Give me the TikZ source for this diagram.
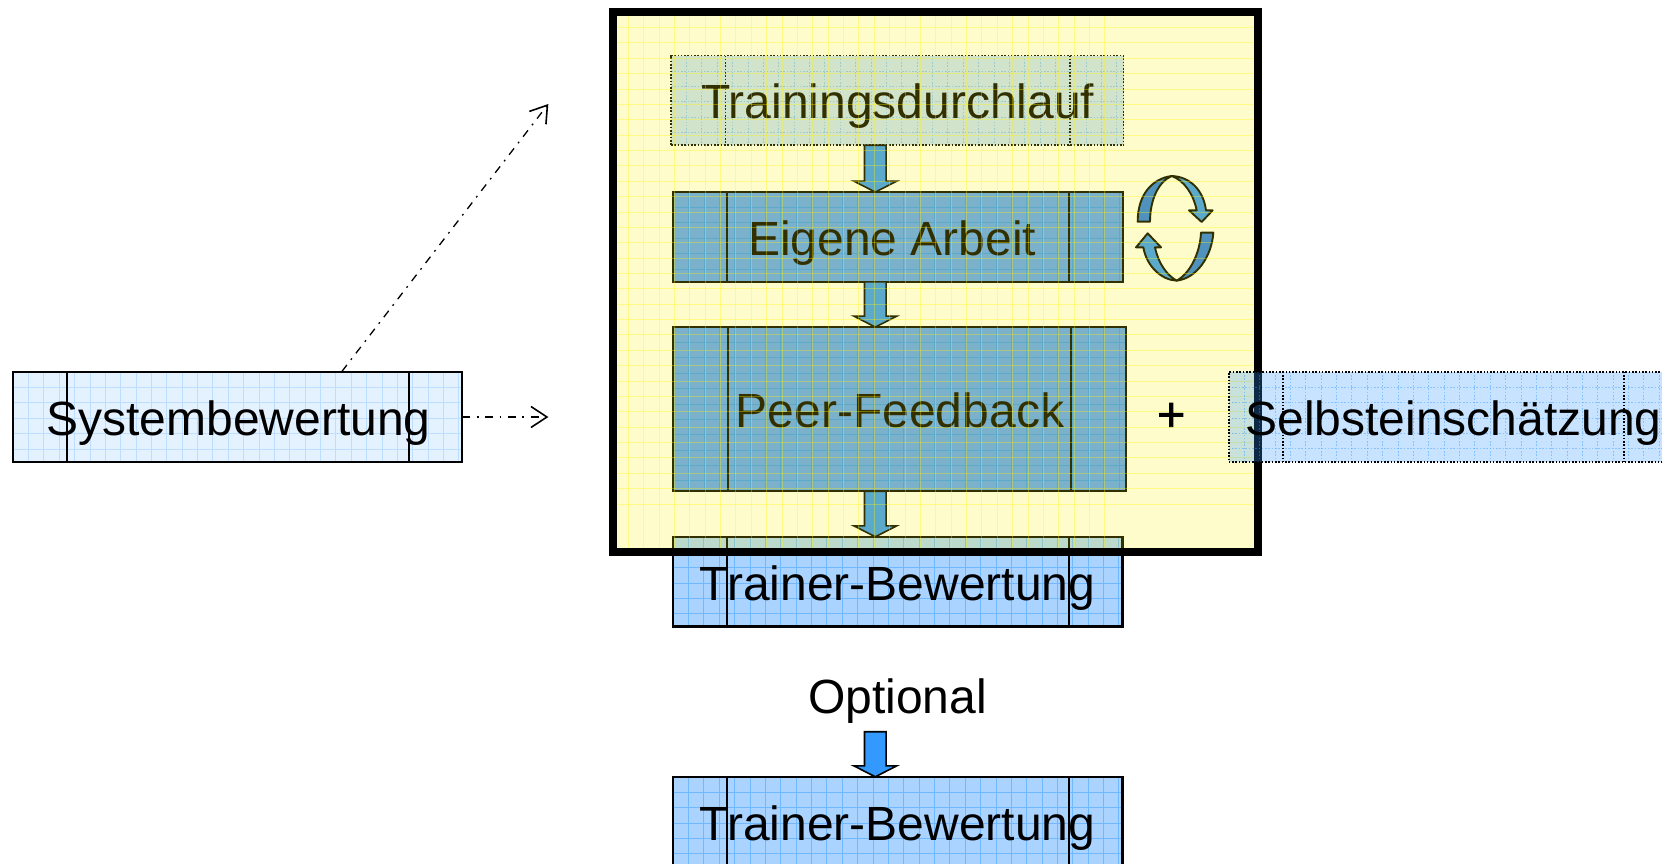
\documentclass[tikz,border=0pt]{standalone}
\usepackage{fontspec}
\setmainfont{Liberation Sans}
\usetikzlibrary{calc,arrows.meta}
\definecolor{blu}{RGB}{51,153,255}
\definecolor{trainerfill}{RGB}{170,212,255}
\definecolor{sysfill}{RGB}{228,241,255}
\definecolor{sysgrid}{RGB}{190,222,255}
\definecolor{deepfill}{RGB}{92,161,255}
\definecolor{trainfill}{RGB}{199,224,255}
\definecolor{traingrid}{RGB}{136,192,255}
\definecolor{darkarm}{RGB}{36,123,237}
\newcommand{\gridlines}[2]{%
  \foreach \k in {1,...,32} {
    \draw[#1] ($(path picture bounding box.north west)+(#2*\k,0)$) -- ($(path picture bounding box.south west)+(#2*\k,0)$);
    \draw[#1] ($(path picture bounding box.north west)+(0,#2*\k)$) -- ($(path picture bounding box.north east)+(0,#2*\k)$);
  }%
}
\tikzset{
  x=1pt,y=-1pt,
  procbox/.style={rectangle,inner sep=0pt,outer sep=0pt},
  solidedge/.style={draw=black,line width=2.1pt},
  dotedge/.style={draw=black,line width=1.6pt,dash pattern=on 1.6pt off 1.7pt},
  trainerbox/.style={procbox,solidedge,fill=trainerfill,path picture={\gridlines{draw=blu!70!white,line width=.7pt}{15.37}}},
  sysbox/.style={procbox,solidedge,fill=sysfill,path picture={\gridlines{draw=sysgrid,line width=.7pt}{15.37}}},
  deepbox/.style={procbox,solidedge,fill=deepfill,path picture={\gridlines{draw=blu,line width=.7pt}{15.37}}},
  trainbox/.style={procbox,dotedge,fill=trainfill,path picture={\gridlines{draw=traingrid,line width=.7pt}{15.37}}},
  selfbox/.style={procbox,dotedge,fill=blu,fill opacity=.27,path picture={\gridlines{draw=blu,draw opacity=.45,line width=.7pt}{15.37}}},
  framebox/.style={rectangle,inner sep=0pt,outer sep=0pt,draw=black,line width=8pt,fill=yellow,fill opacity=.2,path picture={\gridlines{draw=yellow,draw opacity=.35,line width=.6pt}{15.37}}},
  lbl/.style={anchor=base,inner sep=0pt,font=\fontsize{48}{58}\selectfont},
  plusmark/.style={anchor=center,inner sep=0pt,font=\fontsize{48.4}{58}\selectfont\addfontfeature{FakeBold=1.5}},
  blockarrow/.style={draw=black,line width=1.6pt,fill=blu,line join=miter},
  turnarm/.style={draw=black,line width=1.9pt,line join=round},
  linkarrow/.style={draw=black,line width=1.3pt,dash pattern=on 8pt off 6.5pt on 1.8pt off 6.5pt,-{Straight Barb[length=16pt,width=21pt,line width=1.6pt]}},
}
\newcommand{\procnode}[9]{%
  \pgfmathsetmacro{\bw}{#4-#2-1.6}\pgfmathsetmacro{\bh}{#5-#3-1.6}%
  \pgfmathsetmacro{\bx}{(#4+#2)/2}\pgfmathsetmacro{\by}{(#5+#3)/2}%
  \node[#8,minimum width=\bw pt,minimum height=\bh pt] (#1) at (\bx,\by) {};
  \draw[#9] (#6,#3+.8) -- (#6,#5-.8);
  \draw[#9] (#7,#3+.8) -- (#7,#5-.8);
}
\newcommand{\blockto}[3]{%
  \draw[blockarrow] ($(#1 -| #3)+(-10.8,0)$) -- ($(#2 -| #3)+(-10.8,-11)$) -- ($(#2 -| #3)+(-21.5,-11)$) -- (#2 -| #3)
    -- ($(#2 -| #3)+(21.5,-11)$) -- ($(#2 -| #3)+(10.8,-11)$) -- ($(#1 -| #3)+(10.8,0)$) -- cycle;
}
\begin{document}
\begin{tikzpicture}
\useasboundingbox (0,0) rectangle (1662,863);
\coordinate (col) at (875.3,0);
% boxes beneath the translucent frame
\procnode{train}{670.3}{54.7}{1124.4}{146}{725.4}{1069.7}{trainbox}{dotedge}
\procnode{eigene}{672.4}{191.3}{1123.6}{282.7}{727}{1069}{deepbox}{solidedge}
\procnode{peer}{672.4}{326.3}{1126.5}{492}{727.6}{1071.4}{deepbox}{solidedge}
\procnode{trainerA}{672.3}{536}{1123.3}{627.3}{727.3}{1068.7}{trainerbox}{solidedge}
\procnode{trainerB}{672.3}{776}{1123.3}{867.3}{727.3}{1068.7}{trainerbox}{solidedge}
\procnode{sys}{12.2}{371.3}{463}{462.7}{67.4}{408.7}{sysbox}{solidedge}
\blockto{train.south}{eigene.north}{col}
\blockto{eigene.south}{peer.north}{col}
\blockto{peer.south}{trainerA.north}{col}
\coordinate (optstart) at (875.3,731.7);
\blockto{optstart}{trainerB.north}{col}
% circular arrows
\begin{scope}[shift={(1100,150)},x=.3333pt,y=-.3333pt]
  \draw[turnarm,fill=darkarm] (113,215) .. controls (113,130) and (160,85) .. (215,78) .. controls (175,95) and (150,150) .. (150,215) -- cycle;
  \draw[turnarm,fill=blu] (215,78) .. controls (270,80) and (310,120) .. (318,181) -- (338,181) -- (305,216) -- (267,181) -- (290,181) .. controls (280,130) and (250,90) .. (215,78) -- cycle;
  \draw[turnarm,fill=darkarm] (340,248) .. controls (335,320) and (290,385) .. (230,392) .. controls (270,370) and (300,310) .. (303,248) -- cycle;
  \draw[turnarm,fill=blu] (230,392) .. controls (185,390) and (140,350) .. (130,292) -- (108,292) -- (143,250) -- (183,292) -- (165,292) .. controls (175,340) and (200,375) .. (230,392) -- cycle;
\end{scope}
% labels
\node[lbl] (ltrain) at (897.7,118) {Trainingsdurchlauf};
\node[lbl] (leigene) at (892.3,255) {Eigene Arbeit};
\node[lbl] (lpeer) at (900,427.5) {Peer-Feedback};
\node[lbl] (ltrainerA) at (897.5,600) {Trainer-Bewertung};
\node[lbl] (ltrainerB) at (897.5,840) {Trainer-Bewertung};
\node[lbl] (lopt) at (897.5,713.4) {Optional};
\node[lbl] (lsys) at (238.4,435.3) {Systembewertung};
% translucent frame
\node[framebox,minimum width=645.2pt,minimum height=539.7pt] (frame) at (935.4,281.85) {};
% on top of the frame
\procnode{selbst}{1228}{371}{1679}{462.7}{1283}{1624}{selfbox}{dotedge}
\node[lbl] (lselbst) at (1453.5,435.6) {Selbsteinschätzung};
\node[plusmark] (plus) at (1171.2,417) {+};
% links from the system rating
\coordinate (sysdiag) at (342,371.3);
\coordinate (tipdiag) at (548.3,104);
\coordinate (tiphor) at (548.4,417);
\draw[linkarrow] (sysdiag) -- (tipdiag);
\draw[linkarrow] (sys.east) -- (tiphor);
\end{tikzpicture}
\end{document}
